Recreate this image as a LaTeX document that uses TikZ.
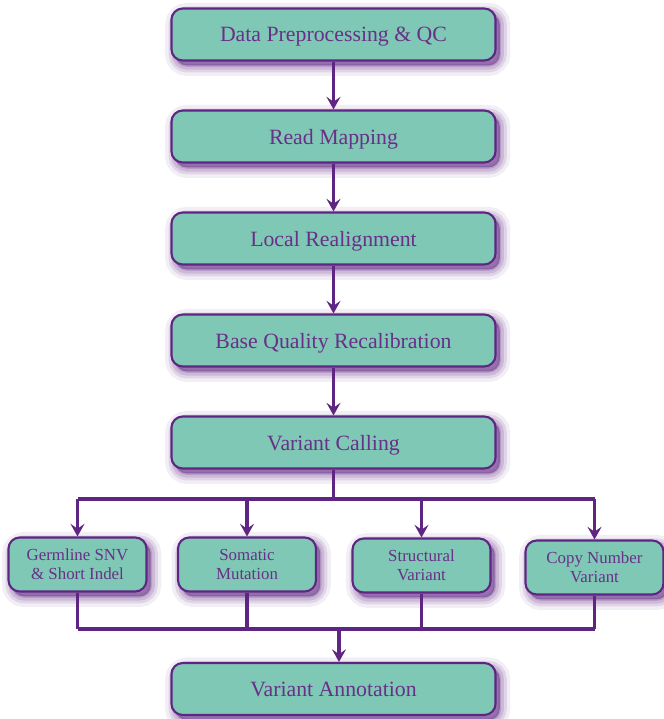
\documentclass[tikz,border=0pt]{standalone}
\usepackage{fontspec}
\setmainfont{Liberation Serif}
\usetikzlibrary{arrows.meta}

\definecolor{boxfill}{RGB}{127,200,181}
\definecolor{edge}{RGB}{94,38,130}
\definecolor{label}{RGB}{104,48,136}

\begin{document}
\begin{tikzpicture}[x=0.025cm,y=-0.025cm,
    halo/.style 2 args={preaction={draw=edge, draw opacity=#1, line width=#2,
      transform canvas={shift={(3pt,-3.5pt)}}}},
    box/.style={draw=edge, line width=1.5pt, fill=boxfill, rounded corners=8pt,
      text=label, align=center, text depth=0pt,
      halo={0.08}{15pt}, halo={0.12}{10pt}, halo={0.16}{6pt}, halo={0.2}{2pt},
      preaction={fill=edge, fill opacity=0.5, transform canvas={shift={(3pt,-3.5pt)}}}},
    stage/.style={box, minimum width=8.1cm, minimum height=1.3cm,
      font=\rmfamily\fontsize{15.5}{18}\selectfont},
    subtask/.style={box, minimum width=3.45cm, minimum height=1.35cm,
      font=\rmfamily\fontsize{12}{13.5}\selectfont},
    flow/.style={draw=edge, line width=2.3pt},
    tip/.style={flow, -{Stealth[length=9pt,width=10pt,inset=3.5pt]}}]

        \useasboundingbox (0,0) rectangle (664,719);

        \begin{scope}[every node/.style={stage}]
          \node (qc)     at (333.5,34.5)  {Data Preprocessing \& QC};
          \node (map)    at (333.5,136.5) {Read Mapping};
          \node (realn)  at (333.5,238.5) {Local Realignment};
          \node (bqsr)   at (333.5,340.5) {Base Quality Recalibration};
          \node (call)   at (333.5,442.5) {Variant Calling};
          \node (annot)  at (333.5,689)   {Variant Annotation};
        \end{scope}

        \begin{scope}[every node/.style={subtask}]
          \node (germ)   at (77.5,564.5)  {Germline SNV\\\& Short Indel};
          \node (soma)   at (247,564.5)   {Somatic\\Mutation};
          \node (sv)     at (421.5,565.5) {Structural\\Variant};
          \node (cnv)    at (594.5,567.5) {Copy Number\\Variant};
        \end{scope}

        \coordinate (split) at (333.5,499);
        \coordinate (join)  at (339,629);

        \draw[tip] (qc)    -- (map);
        \draw[tip] (map)   -- (realn);
        \draw[tip] (realn) -- (bqsr);
        \draw[tip] (bqsr)  -- (call);

        \draw[flow] (call) -- (split);
        \draw[flow] (germ|-split) -- (cnv|-split);
        \foreach \n in {germ,soma,sv,cnv}
          \draw[tip] (\n|-split) -- (\n);

        \foreach \n in {germ,soma,sv,cnv}
          \draw[flow] (\n) -- (\n|-join);
        \draw[flow] (germ|-join) -- (cnv|-join);
        \draw[tip] (join) -- (join|-annot.north);

      \end{tikzpicture}
\end{document}
